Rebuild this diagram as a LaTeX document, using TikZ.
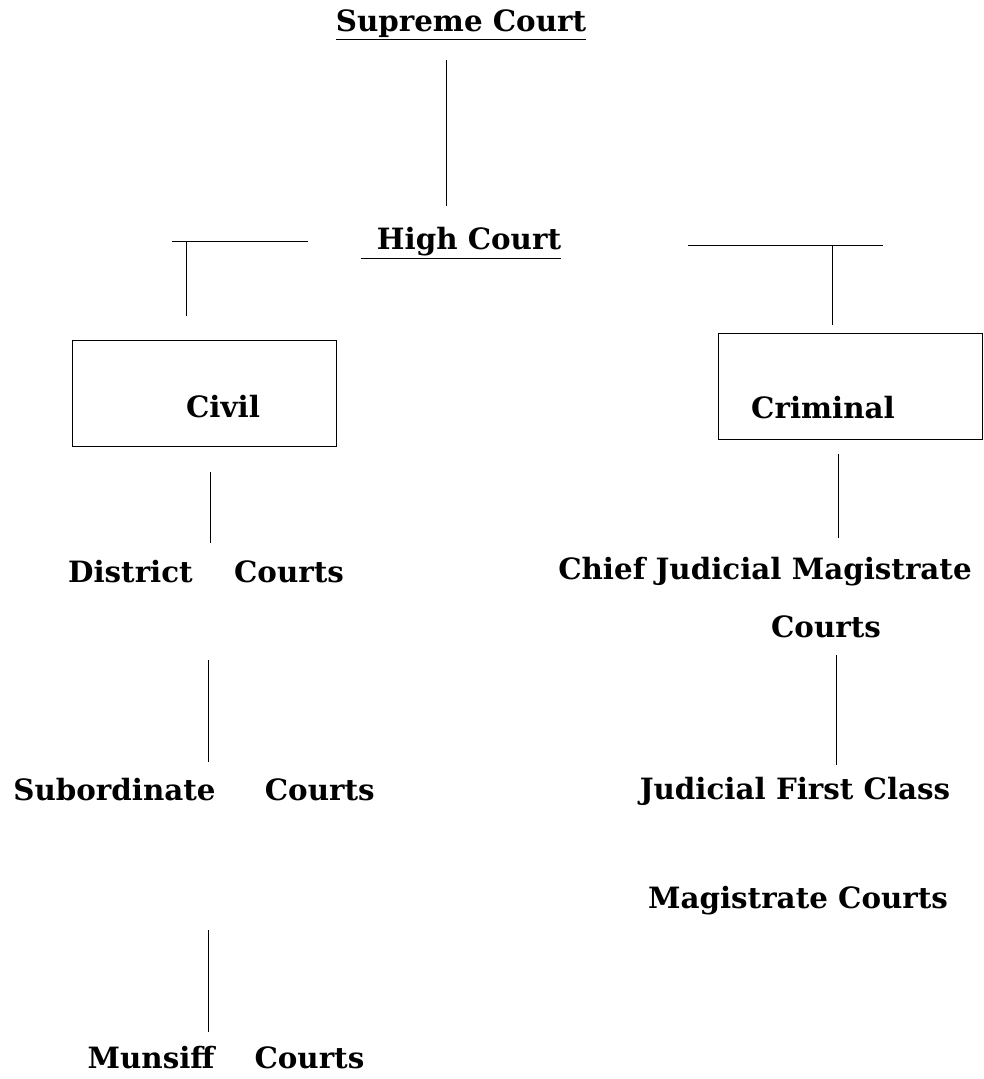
\documentclass[tikz,border=0pt]{standalone}
\usepackage{fontspec}
\setmainfont{DejaVu Serif}
\begin{document}
\begin{tikzpicture}[x=0.75pt, y=-0.75pt,
  court/.style={inner sep=0pt, font=\fontsize{22}{26}\selectfont\bfseries},
  branch/.style={draw, line width=0.7pt, minimum width=198pt, minimum height=79.5pt},
  link/.style={line width=0.7pt}]
  \useasboundingbox (0,0) rectangle (983,1079);
  % top of the tree
  \node[court] at (461,25) (supreme) {\underline{Supreme Court}};
  \node[court] at (461,243) (high) {\underline{\hspace{12pt}High Court}};
  \coordinate (s1) at (446,60);
  \coordinate (s2) at (446,206);
  \draw[link] (s1) -- (s2);
  % civil side
  \coordinate (l1) at (172,241);
  \coordinate (l2) at (308,241);
  \coordinate (l3) at (186,241);
  \coordinate (l4) at (186,316);
  \draw[link] (l1) -- (l2);
  \draw[link] (l3) -- (l4);
  \node[branch] at (204,393) (civilbox) {};
  \node[court] at (223,407) (civil) {Civil};
  \node[court] at (206,572) (district) {District\hspace{31pt}Courts};
  \node[court] at (194,790) (subord) {Subordinate\hspace{37pt}Courts};
  \node[court] at (226,1058) (munsiff) {Munsiff\hspace{30pt}Courts};
  \coordinate (c1) at (210,472);
  \coordinate (c2) at (210,543);
  \coordinate (c3) at (208,660);
  \coordinate (c4) at (208,762);
  \coordinate (c5) at (208,930);
  \coordinate (c6) at (208,1032);
  \draw[link] (c1) -- (c2);
  \draw[link] (c3) -- (c4);
  \draw[link] (c5) -- (c6);
  % criminal side
  \coordinate (r1) at (688,245);
  \coordinate (r2) at (883,245);
  \coordinate (r3) at (832,245);
  \coordinate (r4) at (832,325);
  \draw[link] (r1) -- (r2);
  \draw[link] (r3) -- (r4);
  \node[branch] at (850,386) (crimbox) {};
  \node[court] at (823,408) (criminal) {Criminal};
  \node[court] at (765,572) (cjm) {Chief Judicial Magistrate};
  \node[court] at (826,627) (cjmcourts) {Courts};
  \node[court] at (795,791) (jfc) {Judicial First Class};
  \node[court] at (798,901) (magis) {Magistrate Courts};
  \coordinate (k1) at (838,454);
  \coordinate (k2) at (838,538);
  \coordinate (k3) at (836,655);
  \coordinate (k4) at (836,765);
  \draw[link] (k1) -- (k2);
  \draw[link] (k3) -- (k4);
\end{tikzpicture}
\end{document}
